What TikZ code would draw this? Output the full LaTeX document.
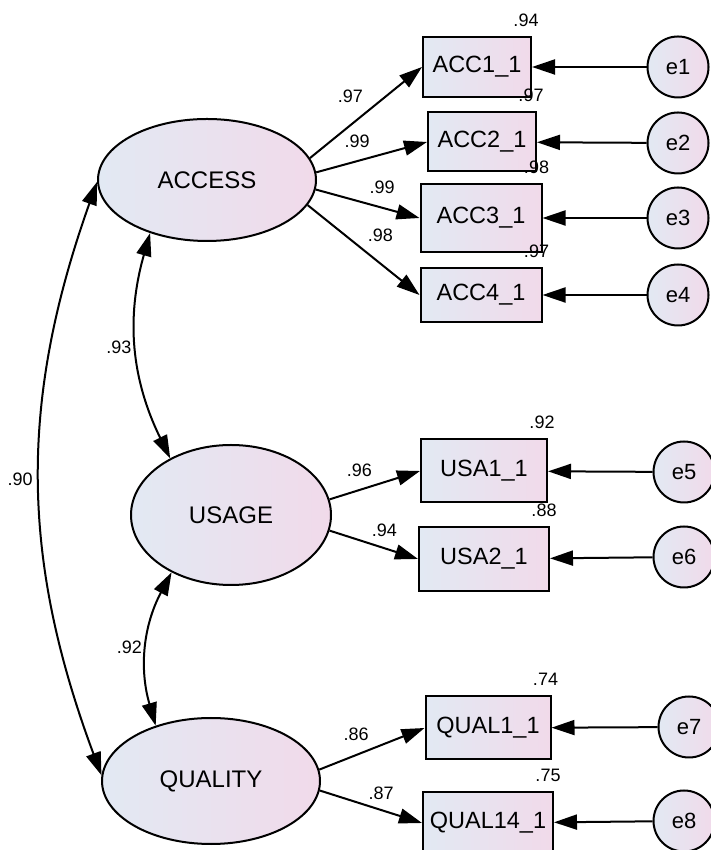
\documentclass[tikz,border=0pt]{standalone}
\usepackage{fontspec}
\setmainfont{Liberation Sans}
\usetikzlibrary{arrows.meta,shapes.geometric}
\definecolor{semblue}{RGB}{226,233,243}
\definecolor{sempink}{RGB}{241,218,234}

\begin{document}
\begin{tikzpicture}[
  x=1pt,y=1pt,
  line width=2pt,
  >={Triangle[length=23pt,width=15pt]},
  latent/.style={draw,ellipse,inner sep=0pt,left color=semblue,right color=sempink,font=\fontsize{24}{28}\selectfont},
  obs/.style={draw,rectangle,inner sep=0pt,left color=semblue,right color=sempink,font=\fontsize{23.5}{27}\selectfont},
  err/.style={draw,circle,inner sep=0pt,minimum size=61pt,left color=semblue,right color=sempink,font=\fontsize{22}{26}\selectfont},
  lbl/.style={inner sep=1pt,font=\fontsize{18}{21}\selectfont},
  load/.style={->},
  cov/.style={<->}
]
  \useasboundingbox (0,0) rectangle (711,850);
  % latent factors
  \node[latent,minimum width=218pt,minimum height=122pt] (access) at (207,670) {ACCESS};
  \node[latent,minimum width=200pt,minimum height=140pt] (usage) at (231,335) {USAGE};
  \node[latent,minimum width=218pt,minimum height=126pt] (quality) at (211,69) {QUALITY};
  % indicators
  \node[obs,minimum width=108pt,minimum height=60pt] (acc1) at (477,783) {ACC1\_1};
  \node[obs,minimum width=108pt,minimum height=59pt] (acc2) at (482,708) {ACC2\_1};
  \node[obs,minimum width=121pt,minimum height=68pt] (acc3) at (481,632) {ACC3\_1};
  \node[obs,minimum width=121pt,minimum height=54pt] (acc4) at (481,555) {ACC4\_1};
  \node[obs,minimum width=126pt,minimum height=63pt] (usa1) at (484,379) {USA1\_1};
  \node[obs,minimum width=130pt,minimum height=64pt] (usa2) at (484,291) {USA2\_1};
  \node[obs,minimum width=125pt,minimum height=63pt] (qual1) at (488,122) {QUAL1\_1};
  \node[obs,minimum width=130pt,minimum height=62pt] (qual14) at (488,27) {QUAL14\_1};
  % errors
  \node[err] (e1) at (678,783) {e1};
  \node[err] (e2) at (678,707) {e2};
  \node[err] (e3) at (678,632) {e3};
  \node[err] (e4) at (678,555) {e4};
  \node[err] (e5) at (684,378) {e5};
  \node[err] (e6) at (684,293) {e6};
  \node[err] (e7) at (689,123) {e7};
  \node[err] (e8) at (684,29) {e8};
  % squared multiple correlations
  \node[lbl] (r1) at ([shift={(-6,16)}]acc1.north east) {.94};
  \node[lbl] (r2) at ([shift={(-6,16)}]acc2.north east) {.97};
  \node[lbl] (r3) at ([shift={(-6,16)}]acc3.north east) {.98};
  \node[lbl] (r4) at ([shift={(-6,16)}]acc4.north east) {.97};
  \node[lbl] (r5) at ([shift={(-6,16)}]usa1.north east) {.92};
  \node[lbl] (r6) at ([shift={(-6,16)}]usa2.north east) {.88};
  \node[lbl] (r7) at ([shift={(-6,16)}]qual1.north east) {.74};
  \node[lbl] (r8) at ([shift={(-6,16)}]qual14.north east) {.75};
  % loadings
  \draw[load] (access.12) -- (acc1.west) node[lbl,pos=0.36,yshift=29pt]{.97};
  \draw[load] (access.4) -- (acc2.west) node[lbl,pos=0.37,yshift=20pt]{.99};
  \draw[load] (access.355) -- (acc3.west) node[lbl,pos=0.64,yshift=20pt]{.99};
  \draw[load] (access.346) -- (acc4.west) node[lbl,pos=0.65,yshift=28pt]{.98};
  \draw[load] (usage.9) -- (usa1.west) node[lbl,pos=0.33,yshift=20pt]{.96};
  \draw[load] (usage.351) -- (usa2.west) node[lbl,pos=0.62,yshift=18pt]{.94};
  \draw[load] (quality.6) -- (qual1.west) node[lbl,pos=0.35,yshift=21pt]{.86};
  \draw[load] (quality.355) -- (qual14.west) node[lbl,pos=0.6,yshift=17pt]{.87};
  % error terms
  \draw[load] (e1) -- (acc1);
  \draw[load] (e2) -- (acc2);
  \draw[load] (e3) -- (acc3);
  \draw[load] (e4) -- (acc4);
  \draw[load] (e5) -- (usa1);
  \draw[load] (e6) -- (usa2);
  \draw[load] (e7) -- (qual1);
  \draw[load] (e8) -- (qual14);
  % covariances
  \draw[cov] (access.223) to[bend right=21] node[lbl,left=3pt]{.93} (usage.137);
  \draw[cov] (usage.224) to[bend right=22] node[lbl,left=3pt]{.92} (quality.135);
  \draw[cov] (access.181) to[bend right=20] node[lbl,left=5pt]{.90} (quality.177);
\end{tikzpicture}
\end{document}
